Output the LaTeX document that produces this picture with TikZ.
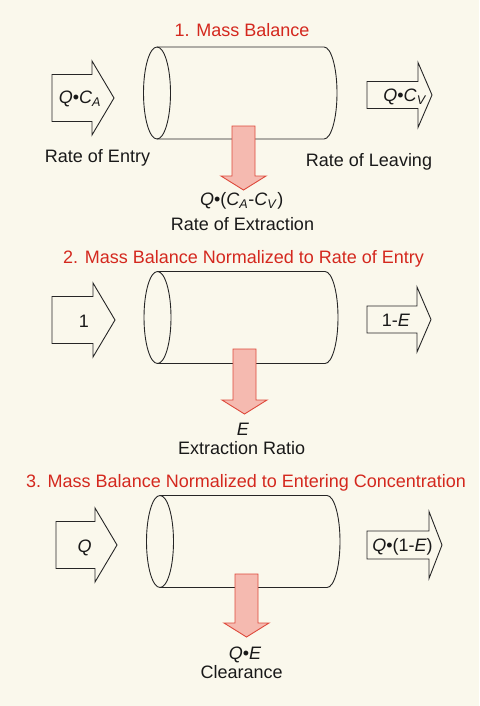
\documentclass[tikz,border=0pt]{standalone}
\usepackage{fontspec}
\setmainfont{Liberation Sans}
\definecolor{pagecream}{RGB}{250,248,236}
\definecolor{titlered}{RGB}{212,40,30}
\definecolor{flowpink}{RGB}{245,186,176}
\definecolor{flowedge}{RGB}{222,74,60}
\tikzset{
  lbl/.style   ={font=\fontsize{18}{21}\selectfont, inner sep=0pt, anchor=base, text=black!90},
  ttl/.style   ={lbl, text=titlered},
  tube/.style  ={draw=black!85, line width=0.9pt},
  inarr/.style ={draw=black!85, line width=0.9pt, fill=pagecream, line join=miter},
  drain/.style ={draw=flowedge, line width=0.9pt, fill=flowpink, line join=miter}
}
% left rim centre x, centre y, right rim centre x
\newcommand{\vessel}[3]{%
  \draw[tube] (#1,#2) ellipse [x radius=13.5, y radius=46];
  \draw[tube] (#1,#2-46) -- (#3,#2-46)
    arc [start angle=-90, end angle=90, x radius=13, y radius=46] -- (#1,#2+46);
}
% shaft left, head base, tip, mid y, half shaft, half head
\newcommand{\sidearrow}[6]{%
  \draw[inarr] (#1,#4-#5) -- (#2,#4-#5) -- (#2,#4-#6) -- (#3,#4)
    -- (#2,#4+#6) -- (#2,#4+#5) -- (#1,#4+#5) -- cycle;
}
% mid x, shaft top, head base, tip
\newcommand{\drainarrow}[4]{%
  \draw[drain] (#1-11.5,#2) -- (#1+11.5,#2) -- (#1+11.5,#3) -- (#1+22.5,#3)
    -- (#1,#4) -- (#1-22.5,#3) -- (#1-11.5,#3) -- cycle;
}

\begin{document}
\begin{tikzpicture}[x=1pt, y=-1pt]
  \fill[pagecream] (0,0) rectangle (479,706);
  \useasboundingbox (0,0) rectangle (479,706);

  % 1
  \vessel{157}{93}{324}
  \sidearrow{52}{92}{114}{98}{23.5}{37}
  \sidearrow{367}{418}{432}{95}{13.5}{32.5}
  \drainarrow{243.5}{126}{176}{190}
  \node[ttl] (title1) at (242,36.5) {1. Mass Balance};
  \node[lbl] (entry1) at (80,104) {\textit{Q}•\textit{C}\textsubscript{\textit{A}}};
  \node[lbl] (leave1) at (405,102) {\textit{Q}•\textit{C}\textsubscript{\textit{V}}};
  \node[lbl] (entrytxt) at (97.5,162.5) {Rate of Entry};
  \node[lbl] (leavetxt) at (369,166.5) {Rate of Leaving};
  \node[lbl] (extr1) at (241.7,205.5) {\textit{Q}•(\textit{C}\textsubscript{\textit{A}}-\textit{C}\textsubscript{\textit{V}})};
  \node[lbl] (extrtxt) at (242.5,230) {Rate of Extraction};

  % 2
  \vessel{157.5}{317.5}{325}
  \sidearrow{52}{93}{115}{320}{23.5}{37}
  \sidearrow{367}{417}{431}{319.5}{13.5}{32.5}
  \drainarrow{244.5}{349}{400}{414}
  \node[ttl] (title2) at (243.5,263.5) {2. Mass Balance Normalized to Rate of Entry};
  \node[lbl] (entry2) at (84,327.5) {1};
  \node[lbl] (leave2) at (396,326.5) {1-\textit{E}};
  \node[lbl] (extr2) at (243,435) {\textit{E}};
  \node[lbl] (ratiotxt) at (241.7,454) {Extraction Ratio};

  % 3
  \vessel{160}{541.5}{327}
  \sidearrow{56}{95}{117}{545}{23.5}{37}
  \sidearrow{367}{429}{442}{545}{14}{33.5}
  \drainarrow{246.5}{574}{623}{637}
  \node[ttl] (title3) at (246,487.5) {3. Mass Balance Normalized to Entering Concentration};
  \node[lbl] (entry3) at (84.5,552) {\textit{Q}};
  \node[lbl] (leave3) at (402.5,551) {\textit{Q}•(1-\textit{E})};
  \node[lbl] (extr3) at (245,659) {\textit{Q}•\textit{E}};
  \node[lbl] (cleartxt) at (241.7,678) {Clearance};
\end{tikzpicture}
\end{document}
